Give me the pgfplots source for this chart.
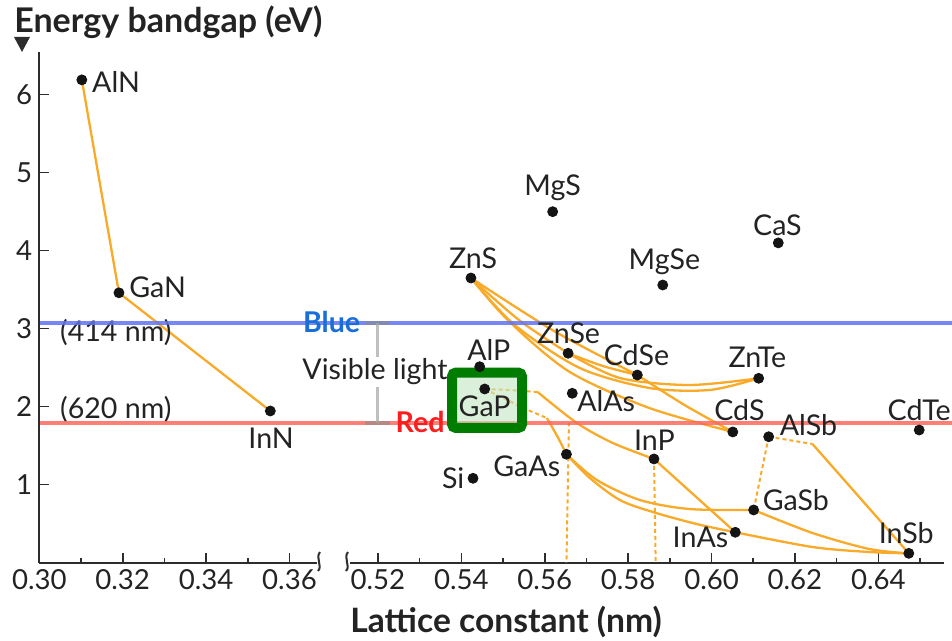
\documentclass[border=0pt]{standalone}
\usepackage{pgfplots}
\pgfplotsset{compat=1.18}
\usepackage{fontspec}
\setmainfont{Lato}
\definecolor{org}{RGB}{248,170,40}
\definecolor{axc}{RGB}{45,45,45}
\definecolor{txt}{RGB}{35,35,35}
\definecolor{dotc}{RGB}{20,20,20}
\definecolor{blueln}{RGB}{95,115,245}
\definecolor{redln}{RGB}{255,105,95}
\definecolor{bluetxt}{RGB}{25,110,215}
\definecolor{redtxt}{RGB}{250,30,30}
\definecolor{boxg}{RGB}{0,125,0}
\definecolor{boxf}{RGB}{195,230,195}
\tikzset{
  lbl/.style={font=\fontsize{14.3}{16}\selectfont, text=txt, inner sep=0pt},
  cv/.style={org, line width=1.15pt, smooth},
  dv/.style={org, line width=1pt, dash pattern=on 2pt off 1.5pt},
}
\begin{document}
\begin{tikzpicture}
\pgfplotsset{
  common/.style={
    x=2085pt, y=39pt,
    ymin=0, ymax=6.55,
    clip=false,
    axis line style={-, draw=axc, line width=1pt},
    tick style={draw=axc, line width=0.8pt},
    major tick length=5pt, minor tick length=2.5pt,
    tick align=inside,
    ticklabel style={font=\fontsize{13.8}{15}\selectfont, text=txt},
    /pgf/number format/assume math mode=true,
    xticklabel style={/pgf/number format/fixed, /pgf/number format/fixed zerofill, /pgf/number format/precision=2},
  }
}
% ---------------- left part ----------------
\begin{axis}[common, at={(0,0)}, anchor=south west,
  xmin=0.30, xmax=0.3666,
  axis x line*=bottom, axis y line*=left,
  xtick={0.30,0.32,0.34,0.36}, minor xtick={0.31,0.33,0.35},
  ytick={1,2,3,4,5,6}]
\addplot[org, line width=1.15pt] coordinates {(0.3102,6.19) (0.3191,3.46) (0.3554,1.945)};
\addplot[only marks, mark=*, mark size=2.5pt, dotc] coordinates {(0.3102,6.19) (0.3191,3.46) (0.3554,1.945)};
\node[lbl,anchor=west] at (axis cs:0.3126,6.163) {AlN};
\node[lbl,anchor=west] at (axis cs:0.3215,3.535) {GaN};
\node[lbl] at (axis cs:0.3556,1.599) {InN};
\node[lbl,anchor=east] at (axis cs:0.3318,2.945) {(414 nm)};
\node[lbl,anchor=east] at (axis cs:0.3318,1.958) {(620 nm)};
\node[anchor=west, inner sep=0pt, font=\bfseries\fontsize{17}{19}\selectfont, text=txt] at (axis cs:0.29393,6.932) {Energy bandgap (eV)};
\fill[axc] (axis cs:0.29393,6.740) -- (axis cs:0.29777,6.740) -- (axis cs:0.29585,6.548) -- cycle;
\end{axis}
% ---------------- right part ----------------
\begin{axis}[common, at={(155.35pt,0)}, anchor=south west,
  xmin=0.5133, xmax=0.6558,
  axis x line*=bottom, axis y line=none,
  xtick={0.52,0.54,0.56,0.58,0.60,0.62,0.64}, minor xtick={0.53,0.55,0.57,0.59,0.61,0.63,0.65}]
% II-VI curves
\addplot[cv] coordinates {(0.5423,3.65) (0.5622,2.971) (0.5822,2.406)};
\addplot[cv] coordinates {(0.5423,3.65) (0.5538,3.112) (0.5656,2.685)};
\addplot[cv] coordinates {(0.5656,2.685) (0.5739,2.522) (0.5822,2.406)};
\addplot[cv] coordinates {(0.5423,3.65) (0.5528,3.047) (0.5684,2.496) (0.5851,2.240) (0.5995,2.214) (0.6113,2.364)};
\addplot[cv] coordinates {(0.5656,2.685) (0.5780,2.368) (0.5947,2.278) (0.6113,2.364)};
\addplot[cv] coordinates {(0.5423,3.65) (0.5516,3.086) (0.5660,2.445) (0.5851,1.983) (0.6051,1.676)};
\addplot[cv] coordinates {(0.5822,2.406) (0.5935,2.022) (0.6051,1.676)};
% III-V curves
\addplot[dv] coordinates {(0.5456,2.227) (0.5516,2.214) (0.5583,2.188)};
\addplot[cv] coordinates {(0.5583,2.188) (0.5677,1.791) (0.5763,1.535) (0.5862,1.33)};
\addplot[dv] coordinates {(0.5456,2.227) (0.5559,1.958) (0.5605,1.855)};
\addplot[cv] coordinates {(0.5605,1.855) (0.5631,1.612) (0.5652,1.39)};
\addplot[dv] coordinates {(0.5658,1.80) (0.5652,0)};
\addplot[dv] coordinates {(0.5862,1.33) (0.5866,0)};
\addplot[cv] coordinates {(0.5652,1.39) (0.5725,1.06) (0.5828,0.804) (0.5947,0.688) (0.6101,0.676)};
\addplot[cv] coordinates {(0.5652,1.39) (0.5708,1.086) (0.5780,0.804) (0.5859,0.650) (0.5964,0.496) (0.6057,0.39)};
\addplot[org, line width=1.15pt] coordinates {(0.5862,1.33) (0.6057,0.39)};
\addplot[cv] coordinates {(0.6057,0.39) (0.6242,0.201) (0.6378,0.137) (0.6473,0.12)};
\addplot[cv] coordinates {(0.6101,0.676) (0.6242,0.381) (0.6378,0.176) (0.6473,0.12)};
\addplot[dv] coordinates {(0.6137,1.615) (0.6101,0.676)};
\addplot[dv] coordinates {(0.6137,1.615) (0.6242,1.522)};
\addplot[org, line width=1.15pt] coordinates {(0.6242,1.522) (0.6473,0.12)};
% visible range lines
\addplot[blueln, line width=2pt, opacity=0.85] coordinates {(0.43896,3.07) (0.65766,3.07)};
\addplot[redln, line width=2pt, opacity=0.85] coordinates {(0.43896,1.79) (0.65766,1.79)};
\draw[black!25, line width=1.6pt] (axis cs:0.5198,3.07) -- (axis cs:0.5198,1.79);
\draw[black!45, line width=2pt, opacity=0.6] (axis cs:0.5169,3.07) -- (axis cs:0.5229,3.07);
\draw[black!45, line width=2pt, opacity=0.6] (axis cs:0.5169,1.79) -- (axis cs:0.5229,1.79);
\node[inner sep=1pt, fill=white, font=\fontsize{14.3}{16}\selectfont, text=txt] at (axis cs:0.5193,2.445) {Visible light};
\node[inner sep=0pt, font=\bfseries\fontsize{14.3}{16}\selectfont, text=bluetxt] at (axis cs:0.5089,3.086) {Blue};
\node[inner sep=0pt, font=\bfseries\fontsize{14.3}{16}\selectfont, text=redtxt] at (axis cs:0.5301,1.80) {Red};
% points
\addplot[only marks, mark=*, mark size=2.5pt, dotc] coordinates {
 (0.5619,4.50) (0.5423,3.65) (0.5883,3.56) (0.6160,4.10) (0.5656,2.685) (0.5822,2.406)
 (0.6113,2.364) (0.5666,2.172) (0.5444,2.513) (0.6051,1.676) (0.6137,1.615) (0.6498,1.701)
 (0.6101,0.676) (0.6057,0.39) (0.6473,0.12) (0.5862,1.33) (0.5652,1.39) (0.5428,1.082)};
% GaP highlight box
\draw[boxg, line width=5pt, rounded corners=2pt, fill=boxf, fill opacity=0.6] (axis cs:0.53776,2.438) rectangle (axis cs:0.55455,1.727);
\addplot[only marks, mark=*, mark size=2.5pt, dotc] coordinates {(0.5456,2.227)};
\node[lbl] at (axis cs:0.5456,2.009) {GaP};
% labels
\node[lbl] at (axis cs:0.5619,4.804) {MgS};
\node[lbl] at (axis cs:0.5428,3.906) {ZnS};
\node[lbl] at (axis cs:0.5887,3.855) {MgSe};
\node[lbl] at (axis cs:0.6158,4.329) {CaS};
\node[lbl] at (axis cs:0.5657,2.945) {ZnSe};
\node[lbl] at (axis cs:0.5820,2.663) {CdSe};
\node[lbl] at (axis cs:0.6110,2.637) {ZnTe};
\node[lbl] at (axis cs:0.5466,2.727) {AlP};
\node[lbl,anchor=west] at (axis cs:0.5677,2.073) {AlAs};
\node[lbl] at (axis cs:0.6067,1.958) {CdS};
\node[lbl,anchor=west] at (axis cs:0.6163,1.765) {AlSb};
\node[lbl] at (axis cs:0.6498,1.958) {CdTe};
\node[lbl] at (axis cs:0.5863,1.573) {InP};
\node[lbl,anchor=east] at (axis cs:0.5638,1.240) {GaAs};
\node[lbl,anchor=east] at (axis cs:0.5408,1.086) {Si};
\node[lbl,anchor=west] at (axis cs:0.6122,0.804) {GaSb};
\node[lbl,anchor=east] at (axis cs:0.6041,0.329) {InAs};
\node[lbl] at (axis cs:0.6467,0.381) {InSb};
\node[anchor=west, inner sep=0pt, font=\bfseries\fontsize{16.8}{19}\selectfont, text=txt] at (axis cs:0.5133,-0.760) {Lattice constant (nm)};
\end{axis}
% axis-break marks and picture frame (pixel frame of the reference)
\begin{scope}[shift={(-19.65pt,281.35pt)}, x=0.5pt, y=-0.5pt]
\draw[axc, line width=1pt] (318,571) .. controls (323,566) and (315,558) .. (320,552);
\draw[axc, line width=1pt] (346,571) .. controls (351,566) and (343,558) .. (348,552);
\pgfresetboundingbox
\path[use as bounding box] (0,0) rectangle (952,641);
\end{scope}
\end{tikzpicture}
\end{document}
